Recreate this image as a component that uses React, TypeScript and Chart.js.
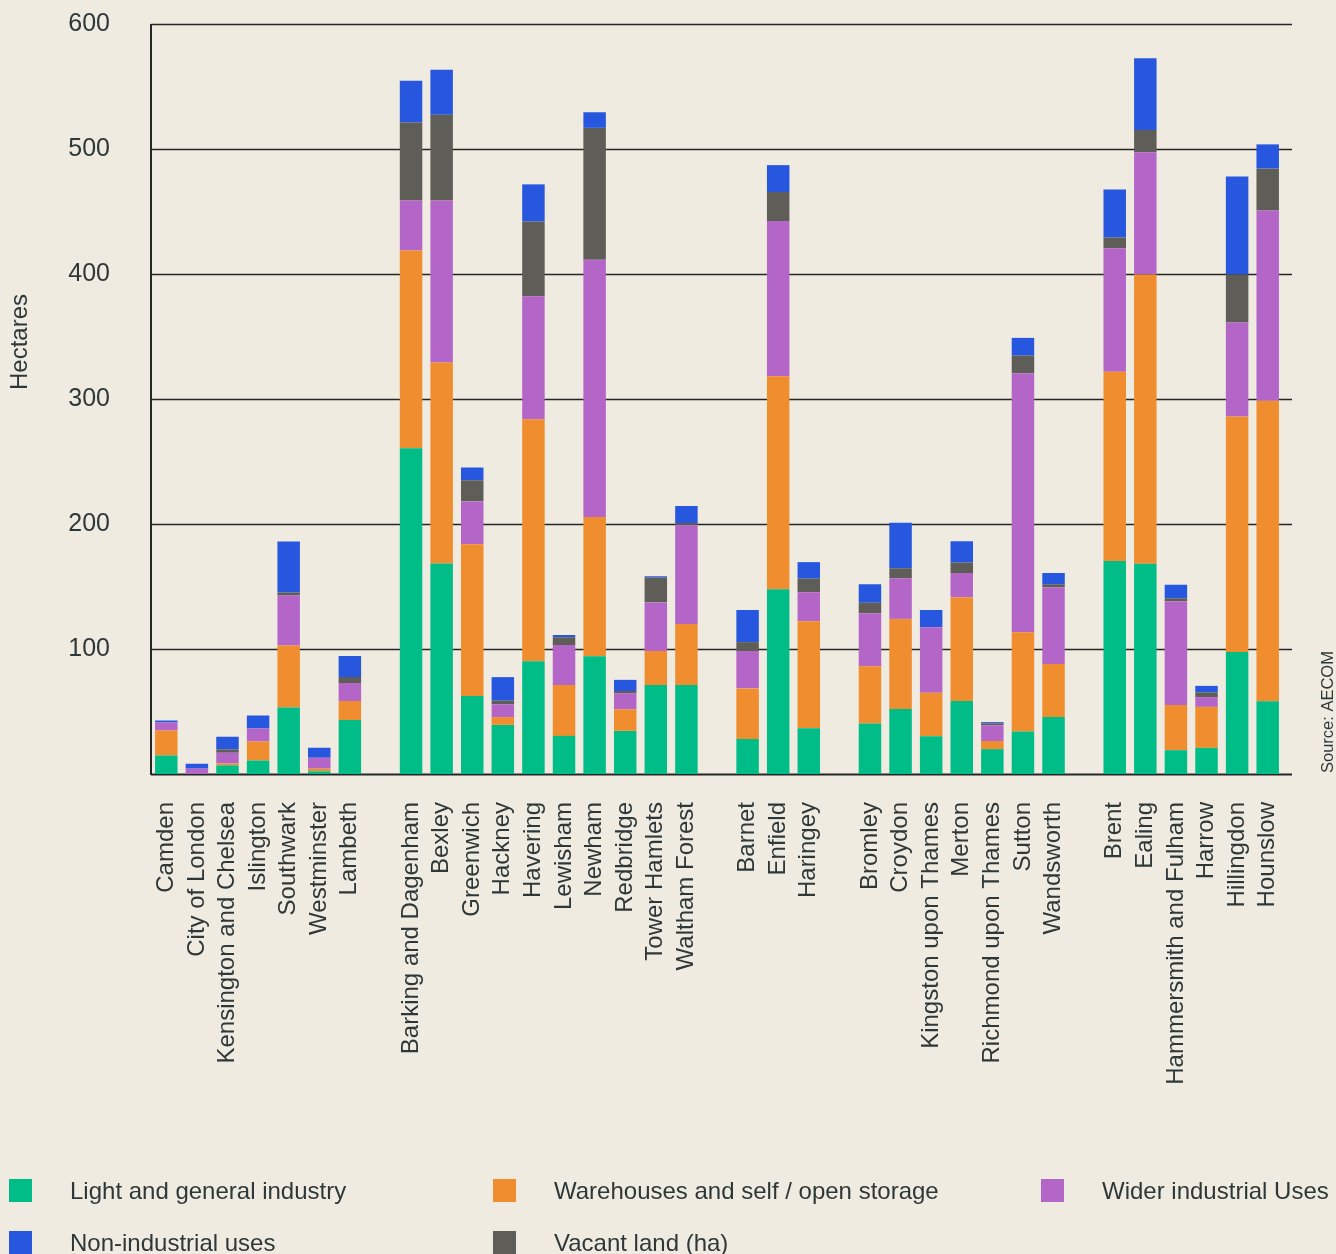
import React, { useEffect, useRef } from "react";
import { Chart, registerables } from "chart.js";

Chart.register(...registerables);

// ---- data ----
const categories: string[] = [
  "Camden", "City of London", "Kensington and Chelsea", "Islington", "Southwark", "Westminster", "Lambeth",
  "",
  "Barking and Dagenham", "Bexley", "Greenwich", "Hackney", "Havering", "Lewisham", "Newham", "Redbridge", "Tower Hamlets", "Waltham Forest",
  "",
  "Barnet", "Enfield", "Haringey",
  "",
  "Bromley", "Croydon", "Kingston upon Thames", "Merton", "Richmond upon Thames", "Sutton", "Wandsworth",
  "",
  "Brent", "Ealing", "Hammersmith and Fulham", "Harrow", "Hillingdon", "Hounslow",
];

const lightIndustry: (number | null)[] = [
  14.8, 0, 6.9, 10.8, 53.2, 2.1, 43.2,
  null,
  260.6, 168.5, 62.4, 39.3, 90.3, 30.5, 94.3, 34.5, 71.2, 71.2,
  null,
  28, 147.9, 36.7,
  null,
  40.5, 52.1, 30.2, 58.5, 19.9, 34.1, 45.7,
  null,
  170.4, 168.2, 19, 20.9, 97.7, 58.2,
];

const warehouses: (number | null)[] = [
  20, 0, 1.6, 15.2, 49.6, 2.2, 15.2,
  null,
  158.3, 160.8, 121.5, 6.2, 193.5, 40.7, 111.3, 17.3, 27.2, 48.8,
  null,
  40.5, 170.4, 85.5,
  null,
  45.7, 72, 34.8, 83, 6.5, 79.4, 42.4,
  null,
  151.4, 231.5, 36.2, 32.8, 188.3, 240.5,
];

const widerIndustrial: (number | null)[] = [
  6.4, 4.3, 8.5, 10.4, 40, 8.7, 14.4,
  null,
  40, 129.6, 34.2, 10.3, 98.4, 32, 205.9, 12.8, 38.9, 79,
  null,
  29.9, 124.1, 23.1,
  null,
  42.4, 32.5, 52.4, 19.3, 12.5, 207.1, 61.4,
  null,
  98.8, 97.7, 83.1, 7.8, 75.3, 152.1,
];

const vacantLand: (number | null)[] = [
  0, 0, 2.7, 0, 2.4, 0, 4.8,
  null,
  62.4, 68.6, 16.9, 2.9, 59.8, 6.2, 105.4, 1.8, 19.8, 1.8,
  null,
  7.1, 23.2, 11,
  null,
  8.4, 8, 0, 8.3, 1.6, 14.1, 2.3,
  null,
  8.6, 17.9, 2.3, 3.8, 38.4, 33.5,
];

const nonIndustrial: (number | null)[] = [
  1.6, 3.9, 10.1, 10.4, 40.8, 8, 16.8,
  null,
  33.4, 36, 10.2, 18.8, 29.7, 1.8, 12.5, 8.9, 1.1, 13.6,
  null,
  25.7, 21.5, 13.2,
  null,
  14.8, 36.4, 13.8, 17.1, 1, 14.2, 9,
  null,
  38.4, 57.4, 10.8, 5.2, 78.3, 19.4,
];

const yTicks: number[] = [0, 100, 200, 300, 400, 500, 600];

// ---- styles ----
const BG = "#EFEBE1";
const TEXT = "#2F3838";
const LINE = "#262626";
const FONT = '"Liberation Sans", Arial, sans-serif';
const C_LIGHT = "#00BC87";
const C_WARE = "#F08D2E";
const C_WIDER = "#B466C8";
const C_VACANT = "#5E5D57";
const C_NONIND = "#2757DE";

const legendItems = [
  { label: "Light and general industry", color: C_LIGHT, left: 9, top: 1179 },
  { label: "Warehouses and self / open storage", color: C_WARE, left: 493, top: 1179 },
  { label: "Wider industrial Uses", color: C_WIDER, left: 1041, top: 1179 },
  { label: "Non-industrial uses", color: C_NONIND, left: 9, top: 1231 },
  { label: "Vacant land (ha)", color: C_VACANT, left: 493, top: 1231 },
];

const decorPlugin = {
  id: "decor",
  beforeDatasetsDraw(chart: any) {
    const { ctx, chartArea, scales } = chart;
    const y = scales.y;
    ctx.save();
    ctx.strokeStyle = LINE;
    yTicks.forEach((v) => {
      const py = Math.round(y.getPixelForValue(v)) + 0.5;
      ctx.lineWidth = v === 0 ? 2 : 1.3;
      ctx.beginPath();
      ctx.moveTo(chartArea.left, py);
      ctx.lineTo(chartArea.right + 9, py);
      ctx.stroke();
    });
    ctx.lineWidth = 2;
    ctx.beginPath();
    ctx.moveTo(chartArea.left, y.getPixelForValue(600));
    ctx.lineTo(chartArea.left, y.getPixelForValue(0) + 1);
    ctx.stroke();
    ctx.restore();

    // axis title
    ctx.save();
    ctx.fillStyle = TEXT;
    ctx.font = `24px ${FONT}`;
    ctx.translate(20, 342);
    ctx.rotate(-Math.PI / 2);
    ctx.textAlign = "center";
    ctx.textBaseline = "middle";
    ctx.fillText("Hectares", 0, 0);
    ctx.restore();

    // source
    ctx.save();
    ctx.fillStyle = TEXT;
    ctx.font = `16.5px ${FONT}`;
    ctx.translate(1328, 773);
    ctx.rotate(-Math.PI / 2);
    ctx.textAlign = "left";
    ctx.textBaseline = "middle";
    ctx.fillText("Source: AECOM", 0, 0);
    ctx.restore();
  },
};

export default function App() {
  const ref = useRef<HTMLCanvasElement | null>(null);

  useEffect(() => {
    if (!ref.current) return;
    const mk = (label: string, data: (number | null)[], color: string) => ({
      label,
      data,
      backgroundColor: color,
      borderWidth: 0,
      barPercentage: 0.735,
      categoryPercentage: 1,
    });
    const chart = new Chart(ref.current, {
      type: "bar",
      data: {
        labels: categories,
        datasets: [
          mk("Light and general industry", lightIndustry, C_LIGHT),
          mk("Warehouses and self / open storage", warehouses, C_WARE),
          mk("Wider industrial Uses", widerIndustrial, C_WIDER),
          mk("Vacant land (ha)", vacantLand, C_VACANT),
          mk("Non-industrial uses", nonIndustrial, C_NONIND),
        ],
      },
      options: {
        animation: false,
        responsive: false,
        devicePixelRatio: 1,
        layout: { padding: { top: 24, right: 53, bottom: 0, left: 0 } },
        plugins: {
          legend: { display: false },
          tooltip: { enabled: false },
        },
        scales: {
          x: {
            stacked: true,
            grid: { display: false, drawTicks: false },
            border: { display: false },
            ticks: {
              autoSkip: false,
              maxRotation: 90,
              minRotation: 90,
              padding: 28,
              color: TEXT,
              font: { family: FONT, size: 24 },
            },
            afterFit: (scale: any) => {
              scale.height = 480;
              scale.paddingLeft = 0;
              scale.paddingRight = 0;
            },
          },
          y: {
            stacked: true,
            min: 0,
            max: 600,
            grid: { display: false, drawTicks: false },
            border: { display: false },
            ticks: {
              stepSize: 100,
              padding: 41,
              color: TEXT,
              font: { family: FONT, size: 25 },
              callback: (v: any) => (Number(v) === 0 ? "" : String(v)),
            },
            afterFit: (scale: any) => {
              scale.width = 151;
              scale.paddingTop = 0;
              scale.paddingBottom = 0;
            },
          },
        },
      },
      plugins: [decorPlugin],
    });
    return () => chart.destroy();
  }, []);

  return (
    <div
      style={{
        position: "absolute",
        left: 0,
        top: 0,
        width: 1336,
        height: 1254,
        background: BG,
        overflow: "hidden",
        fontFamily: FONT,
      }}
    >
      <canvas
        ref={ref}
        width={1336}
        height={1254}
        style={{ position: "absolute", left: 0, top: 0, width: 1336, height: 1254 }}
      />
      {legendItems.map((it) => (
        <div key={it.label}>
          <div
            style={{
              position: "absolute",
              left: it.left,
              top: it.top,
              width: 23,
              height: 23,
              background: it.color,
            }}
          />
          <div
            style={{
              position: "absolute",
              left: it.left + 61,
              top: it.top - 4,
              height: 31,
              lineHeight: "31px",
              fontSize: 24,
              color: TEXT,
              whiteSpace: "nowrap",
            }}
          >
            {it.label}
          </div>
        </div>
      ))}
    </div>
  );
}
